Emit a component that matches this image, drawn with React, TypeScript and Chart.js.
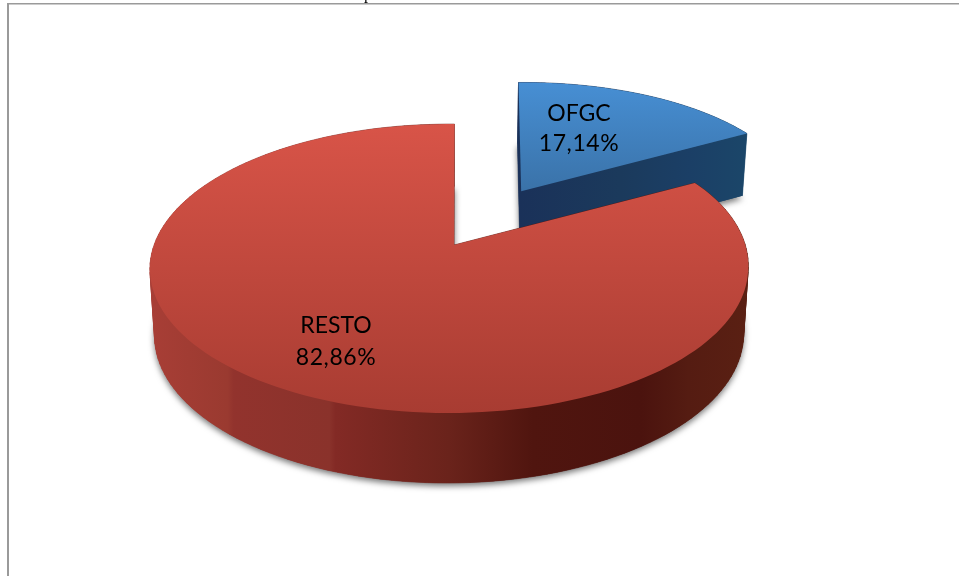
import React, { useEffect, useRef } from "react";
import { Chart, registerables } from "chart.js";

Chart.register(...registerables);

const categories = ["OFGC", "RESTO"];
const shares = [17.14, 82.86];
const shareLabels = ["17,14%", "82,86%"];

// Disc-space explosion of each slice along its mid-angle
const explode = [0.476, 0];
const labelAt = [
  { x: 579, y1: 114, y2: 144 },
  { x: 336, y1: 326, y2: 358 },
];
const topColors = [
  ["#478fd4", "#3a72a8"],
  ["#d85448", "#a83c32"],
];
const wallStops = [
  [
    [0, "#1a3159"],
    [0.45, "#1b3a5c"],
    [0.75, "#1b3f66"],
    [1, "#1b4669"],
  ],
  [
    [0, "#a83e36"],
    [0.13, "#9a3a30"],
    [0.14, "#92332d"],
    [0.3, "#8a322b"],
    [0.31, "#832a25"],
    [0.5, "#6a231b"],
    [0.64, "#50150f"],
    [0.82, "#4b130e"],
    [0.9, "#551c12"],
    [1, "#5a2013"],
  ],
];

// Perspective view of the disc
const X0 = 454, Y0 = 245, A = 295, B = 140.6, K = 0.163, J = 0.0165;
// Small per-slice correction of the exploded slice around its apex
const tweak = [
  { ax: 521, ay: 190, shearX: 0.06, shearY: -0.017, scaleX: 1.02, scaleY: 1.02 },
  { ax: 454, ay: 245, shearX: 0.008, shearY: -0.004, scaleX: 1.01, scaleY: 1 },
];
function project(u: number, v: number, low: boolean, slice: number) {
  const w = 1 - K * v + J * u;
  const s = low ? 0.985 : 1;
  const dy = low ? 29.7 + 35.8 / w : 0;
  const px = X0 + (s * A * u) / w;
  const py = Y0 + (s * B * v) / w;
  const t = tweak[slice];
  // the red slice keeps its rim: its correction only fades in on the notch side
  const f = slice === 1 ? Math.max(0, Math.min(1, (-v + 0.2) / 0.6)) * Math.max(0, Math.min(1, (u + 0.2) / 0.4)) : 1;
  const x = px + f * (t.shearX * (t.ay - py) + (t.scaleX - 1) * (px - t.ax));
  const y = t.ay + (py - t.ay) * (1 + f * (t.scaleY - 1)) + f * t.shearY * (px - t.ax);
  return { x, y: y + dy };
}

function piePoints(cu: number, cv: number, a0: number, a1: number, low: boolean, slice: number) {
  const pts = [project(cu, cv, low, slice)];
  const n = 160;
  for (let i = 0; i <= n; i++) {
    const a = a0 + ((a1 - a0) * i) / n;
    pts.push(project(cu + Math.cos(a), cv + Math.sin(a), low, slice));
  }
  return pts;
}

function trace(ctx: CanvasRenderingContext2D, pts: { x: number; y: number }[]) {
  ctx.beginPath();
  pts.forEach((p, i) => (i ? ctx.lineTo(p.x, p.y) : ctx.moveTo(p.x, p.y)));
  ctx.closePath();
}

const pie3d = {
  id: "pie3d",
  afterDatasetsDraw(chart: any) {
    const ctx: CanvasRenderingContext2D = chart.ctx;
    const arcs = chart.getDatasetMeta(0).data;
    ctx.save();
    // frame of the page the chart was cut from
    ctx.fillStyle = "#9a9a9a";
    ctx.fillRect(7, 3, 952, 1.5);
    ctx.fillRect(7, 3, 2, 573);
    ctx.fillStyle = "#000";
    ctx.font = "16px 'Liberation Serif'";
    ctx.textAlign = "left";
    ctx.textBaseline = "alphabetic";
    ctx.fillText("p", 364, -1);

    arcs.forEach((arc: any, i: number) => {
      const mid = (arc.startAngle + arc.endAngle) / 2;
      const cu = explode[i] * Math.cos(mid);
      const cv = explode[i] * Math.sin(mid);
      const top = piePoints(cu, cv, arc.startAngle, arc.endAngle, false, i);
      const low = piePoints(cu, cv, arc.startAngle, arc.endAngle, true, i);
      const xs = low.map((p) => p.x).concat(top.map((p) => p.x));
      const ys = top.map((p) => p.y);
      const wall = ctx.createLinearGradient(Math.min(...xs), 0, Math.max(...xs), 0);
      wallStops[i].forEach(([o, c]) => wall.addColorStop(o as number, c as string));

      ctx.save();
      ctx.shadowColor = "rgba(0,0,0,0.55)";
      ctx.shadowBlur = 6;
      ctx.shadowOffsetY = 3;
      ctx.fillStyle = wall;
      trace(ctx, low);
      ctx.fill();
      ctx.restore();

      ctx.fillStyle = wall;
      for (let k = 0; k + 1 < top.length; k++) {
        trace(ctx, [top[k], top[k + 1], low[k + 1], low[k]]);
        ctx.fill();
        ctx.strokeStyle = wall;
        ctx.lineWidth = 0.6;
        ctx.stroke();
      }
      const last = top.length - 1;
      trace(ctx, [top[last], top[0], low[0], low[last]]);
      ctx.fill();

      const face = ctx.createLinearGradient(0, Math.min(...ys), 0, Math.max(...ys));
      face.addColorStop(0, topColors[i][0]);
      face.addColorStop(1, topColors[i][1]);
      ctx.fillStyle = face;
      trace(ctx, top);
      ctx.fill();
    });

    ctx.fillStyle = "#000";
    ctx.font = "23px Lato";
    ctx.textAlign = "center";
    ctx.textBaseline = "middle";
    categories.forEach((name, i) => {
      (ctx as any).letterSpacing = "0px";
      ctx.fillText(name, labelAt[i].x, labelAt[i].y1);
      (ctx as any).letterSpacing = "0.6px";
      ctx.fillText(shareLabels[i], labelAt[i].x, labelAt[i].y2);
    });
    ctx.restore();
  },
};

export default function App() {
  const ref = useRef<HTMLCanvasElement>(null);
  useEffect(() => {
    const chart = new Chart(ref.current!, {
      type: "pie",
      data: {
        labels: categories,
        datasets: [
          {
            data: shares,
            backgroundColor: "rgba(0,0,0,0)",
            borderWidth: 0,
          },
        ],
      },
      options: {
        animation: false,
        responsive: false,
        plugins: { legend: { display: false }, tooltip: { enabled: false } },
      },
      plugins: [pie3d],
    });
    return () => chart.destroy();
  }, []);
  return (
    <canvas
      ref={ref}
      width={959}
      height={576}
      style={{ position: "fixed", left: 0, top: 0, width: 959, height: 576, background: "#fff" }}
    />
  );
}
